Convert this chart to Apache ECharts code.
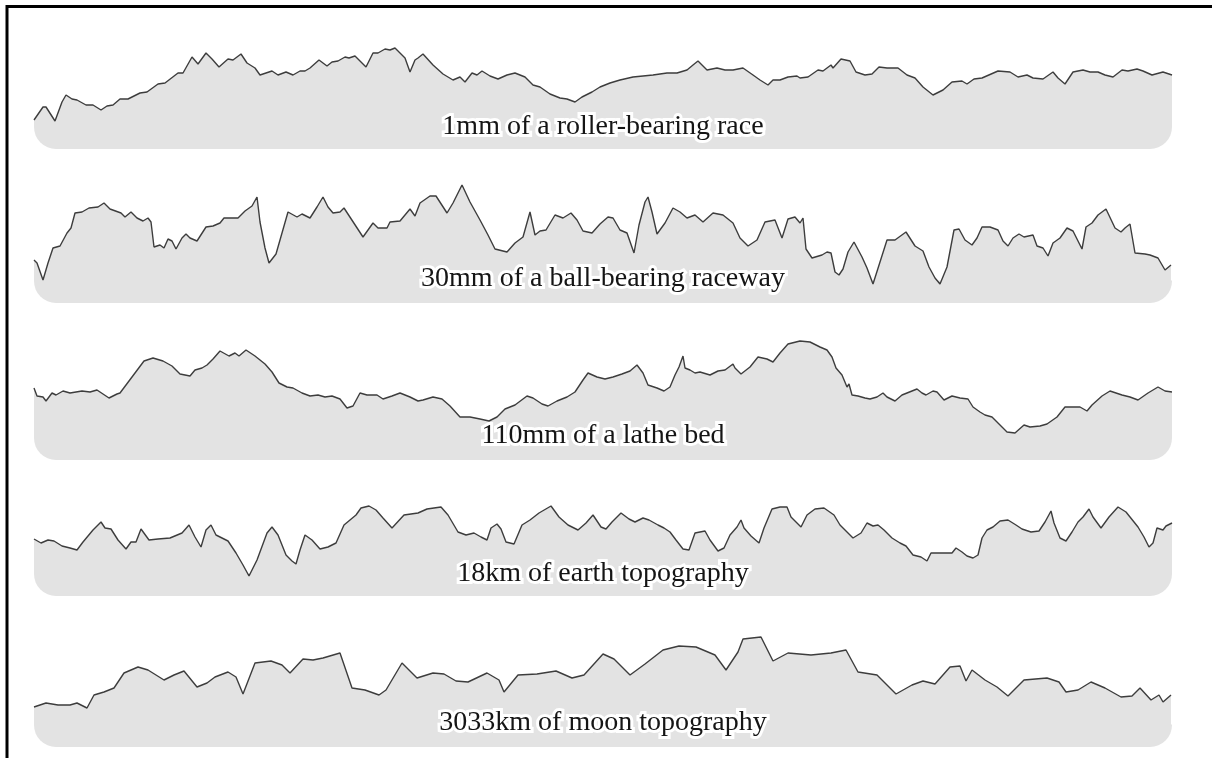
<!DOCTYPE html>
<html>
<head>
<meta charset="utf-8">
<title>Surface profiles</title>
<script src="https://cdn.jsdelivr.net/npm/echarts@6/dist/echarts.min.js"></script>
<style>
  html, body { margin: 0; padding: 0; background: #fff; }
  #chart { width: 1212px; height: 758px; }
</style>
</head>
<body>
<div id="chart"></div>
<script>
// profile labels, top to bottom
const labels = [
  '1mm of a roller-bearing race',
  '30mm of a ball-bearing raceway',
  '110mm of a lathe bed',
  '18km of earth topography',
  '3033km of moon topography'
]

// [position along trace, height above the shaded base]
const rollerRace = [
  [0,29],[9,42],[12,42],[21,28],[28,47],[32,54],[38,50],[43,49],[52,44],[59,44],[67,39],[73,43],[79,44],[86,50],[94,50],
  [106,56],[113,57],[124,65],[131,66],[144,76],[149,76],[158,92],[164,85],[172,96],[178,90],[185,82],[194,90],[199,89],
  [207,95],[213,86],[221,81],[226,74],[238,78],[244,74],[252,77],[259,74],[266,78],[271,78],[276,81],[285,89],[293,83],
  [298,87],[304,88],[311,92],[315,91],[321,93],[332,82],[339,96],[344,96],[351,100],[356,99],[361,101],[366,96],[371,91],
  [376,77],[381,89],[384,91],[389,95],[399,84],[409,75],[419,69],[426,72],[431,67],[438,76],[443,74],[448,78],[456,73],
  [464,70],[473,74],[481,76],[491,72],[499,64],[506,62],[516,55],[526,51],[533,50],[541,47],[548,52],[558,57],[566,62],
  [576,66],[586,69],[599,72],[609,73],[619,74],[633,76],[643,76],[653,79],[659,84],[664,88],[673,79],[683,81],[691,79],
  [699,79],[709,81],[719,74],[726,69],[734,64],[739,69],[746,69],[754,72],[763,73],[766,71],[774,72],[784,79],[789,78],
  [797,84],[799,81],[807,90],[816,88],[822,77],[831,74],[838,75],[845,82],[853,81],[864,81],[873,74],[881,71],[889,62],
  [899,54],[909,59],[918,67],[928,68],[933,65],[940,70],[948,71],[964,78],[976,77],[984,72],[993,74],[999,71],[1009,70],
  [1019,77],[1024,71],[1031,65],[1039,77],[1049,79],[1056,77],[1064,77],[1071,74],[1079,72],[1088,79],[1094,78],[1103,80],
  [1109,78],[1118,74],[1129,77],[1138,74]
]

const ballRaceway = [
  [0,43],[3,40],[9,23],[14,40],[19,55],[26,57],[33,70],[37,75],[41,90],[48,91],[55,95],[64,96],[70,100],[76,94],[87,90],
  [91,86],[97,91],[103,85],[109,82],[114,85],[117,81],[120,56],[126,58],[130,55],[134,64],[138,62],[142,54],[148,65],
  [152,69],[156,65],[163,62],[172,76],[179,77],[186,80],[190,85],[204,85],[211,92],[218,97],[223,106],[226,81],[231,55],
  [235,40],[242,49],[248,70],[254,91],[263,86],[268,89],[276,85],[283,96],[289,106],[294,96],[299,90],[306,91],[310,95],
  [329,66],[334,73],[339,80],[344,75],[353,75],[356,81],[366,82],[376,94],[381,87],[386,100],[396,107],[402,107],[413,90],
  [419,100],[428,118],[436,101],[446,83],[454,68],[461,54],[473,51],[481,60],[489,66],[496,91],[501,68],[506,72],[512,73],
  [521,88],[529,85],[537,90],[543,83],[549,72],[558,70],[566,79],[574,86],[579,85],[586,73],[593,70],[600,50],[605,78],
  [611,101],[614,106],[618,91],[623,69],[631,80],[639,95],[646,91],[653,85],[661,88],[669,81],[679,90],[689,88],[699,80],
  [706,65],[714,57],[723,63],[731,81],[741,83],[748,65],[754,84],[761,86],[766,80],[769,85],[772,54],[778,45],[788,48],
  [793,51],[797,50],[801,31],[805,28],[809,34],[814,51],[820,61],[828,46],[833,35],[839,19],[846,41],[853,63],[861,63],
  [872,71],[881,57],[889,52],[895,36],[901,25],[906,19],[913,36],[920,73],[925,74],[931,63],[938,58],[943,65],[948,76],
  [956,76],[964,73],[969,62],[974,57],[979,65],[985,69],[990,66],[999,68],[1003,57],[1009,55],[1014,47],[1019,60],
  [1026,65],[1033,75],[1039,72],[1048,54],[1052,76],[1058,80],[1064,88],[1072,94],[1081,75],[1087,71],[1091,75],
  [1096,79],[1101,50],[1111,49],[1116,48],[1124,45],[1131,33],[1137,38]
]

const latheBed = [
  [0,72],[3,64],[9,63],[12,59],[18,67],[22,65],[29,69],[36,67],[48,69],[56,68],[63,70],[69,66],[75,62],[83,66],[86,67],
  [98,83],[110,99],[119,102],[129,99],[138,94],[146,86],[156,84],[161,90],[168,92],[173,95],[179,101],[186,109],[195,104],
  [201,107],[205,104],[212,110],[221,104],[231,96],[238,88],[245,77],[253,73],[259,72],[268,67],[276,64],[284,65],[291,63],
  [298,64],[306,61],[313,52],[319,54],[326,67],[333,65],[343,65],[349,61],[358,64],[366,67],[376,63],[384,59],[389,60],
  [399,63],[408,61],[416,54],[426,43],[436,43],[446,41],[455,39],[463,43],[471,51],[481,55],[493,64],[499,62],[508,56],
  [514,54],[523,59],[533,63],[541,68],[549,80],[554,87],[563,83],[571,81],[579,83],[588,86],[596,89],[603,95],[609,87],
  [614,75],[623,72],[630,69],[636,73],[641,85],[645,93],[649,104],[651,92],[656,90],[661,87],[666,88],[676,85],[684,89],
  [691,90],[699,96],[701,92],[707,86],[709,88],[716,93],[724,103],[733,101],[739,98],[746,107],[754,116],[766,119],
  [776,118],[786,113],[793,110],[798,103],[802,92],[808,85],[813,73],[815,76],[818,65],[824,64],[831,62],[836,61],
  [843,63],[849,67],[853,63],[861,59],[868,65],[883,71],[888,67],[892,65],[899,69],[903,68],[910,60],[918,64],[926,62],
  [934,61],[939,53],[946,48],[951,45],[958,43],[966,35],[973,28],[981,27],[990,35],[996,33],[1006,34],[1013,36],
  [1023,43],[1031,53],[1036,53],[1046,53],[1053,49],[1058,55],[1059,53],[1068,64],[1076,69],[1088,65],[1096,63],
  [1104,60],[1114,67],[1124,73],[1131,69],[1138,68]
]

const earthTopo = [
  [0,57],[7,53],[14,56],[20,55],[28,50],[36,48],[43,46],[49,54],[59,66],[67,74],[71,68],[77,67],[84,56],[92,47],[97,54],
  [102,54],[107,67],[115,56],[124,57],[136,58],[148,63],[155,71],[161,59],[167,49],[172,66],[177,71],[182,61],[194,55],
  [202,43],[209,31],[215,20],[223,36],[233,63],[238,69],[244,61],[252,41],[258,35],[262,32],[266,46],[271,61],[278,56],
  [286,47],[294,49],[302,53],[310,71],[322,81],[327,88],[335,90],[342,86],[349,78],[358,68],[370,81],[384,83],[393,87],
  [407,89],[414,81],[424,64],[432,61],[440,63],[447,59],[453,56],[457,68],[463,72],[467,67],[472,54],[480,52],[488,71],
  [496,76],[505,83],[517,90],[525,79],[534,71],[544,66],[552,73],[559,81],[567,69],[572,67],[578,74],[587,83],[595,77],
  [601,74],[609,78],[615,76],[624,71],[630,68],[636,64],[642,56],[649,47],[655,46],[661,63],[671,65],[676,56],[684,45],
  [690,48],[696,61],[703,69],[707,76],[710,68],[717,60],[725,53],[730,68],[738,87],[746,89],[753,89],[757,79],[767,69],
  [773,81],[781,87],[790,88],[800,81],[806,71],[814,63],[819,58],[827,63],[833,73],[839,70],[844,71],[850,66],[858,58],
  [866,53],[872,50],[879,41],[887,39],[893,35],[897,43],[908,43],[918,43],[922,48],[928,44],[933,40],[939,38],[944,41],
  [948,58],[953,66],[959,69],[966,75],[974,76],[982,71],[988,67],[997,64],[1005,65],[1011,74],[1017,85],[1020,73],
  [1026,58],[1032,55],[1038,64],[1044,74],[1049,79],[1055,87],[1059,79],[1067,68],[1075,79],[1084,89],[1092,84],
  [1104,69],[1110,59],[1115,49],[1119,53],[1123,68],[1129,66],[1132,70],[1138,73]
]

const moonTopo = [
  [0,40],[12,44],[24,42],[36,42],[43,44],[53,39],[60,52],[70,55],[80,59],[90,74],[104,80],[114,77],[130,67],[140,72],
  [150,76],[163,60],[173,64],[181,70],[194,75],[202,70],[209,53],[221,84],[237,86],[248,82],[256,74],[269,88],[279,87],
  [289,89],[306,94],[318,59],[331,57],[345,52],[352,57],[368,84],[383,69],[399,74],[410,73],[422,66],[434,65],[453,74],
  [465,67],[470,55],[484,72],[503,73],[522,76],[538,69],[550,72],[569,93],[580,88],[596,72],[611,83],[629,97],[645,101],
  [662,100],[681,92],[692,77],[704,95],[709,108],[727,110],[739,86],[754,94],[777,92],[797,94],[812,97],[824,75],
  [843,72],[862,53],[878,62],[889,66],[901,63],[916,80],[926,81],[932,66],[938,77],[951,67],[963,60],[974,51],[990,67],
  [1013,69],[1025,65],[1032,55],[1044,57],[1057,65],[1071,59],[1087,50],[1098,51],[1106,59],[1117,47],[1125,52],
  [1129,45],[1137,52]
]

const profiles = [rollerRace, ballRaceway, latheBed, earthTopo, moonTopo]

// layout
const plotLeft = 34
const plotWidth = 1138
const panelBottoms = [149, 303, 460, 596, 747]
const labelY = [127, 279, 436, 574, 723]
const corner = 22
const maxH = 130
const fillColor = '#e3e3e3'

const chart = echarts.init(document.getElementById('chart'))

const grids = panelBottoms.map(b => ({
  left: plotLeft, width: plotWidth, top: b - maxH, height: maxH - corner
}))

const xAxes = profiles.map((p, i) => ({
  type: 'value', gridIndex: i, min: 0, max: plotWidth, show: false
}))

const yAxes = profiles.map((p, i) => ({
  type: 'value', gridIndex: i, min: corner, max: maxH, show: false
}))

const series = profiles.map((p, i) => ({
  type: 'line',
  xAxisIndex: i,
  yAxisIndex: i,
  data: p,
  symbol: 'none',
  clip: false,
  silent: true,
  z: 3,
  lineStyle: { color: '#3d3d3d', width: 1.4 },
  areaStyle: { color: fillColor, opacity: 1, origin: 'start' }
}))

const graphics = []
panelBottoms.forEach((b, i) => {
  // rounded base under each profile
  graphics.push({
    type: 'rect',
    z: 1,
    silent: true,
    shape: { x: plotLeft, y: b - corner - 0.5, width: plotWidth, height: corner + 0.5, r: [0, 0, corner, corner] },
    style: { fill: fillColor }
  })
  graphics.push({
    type: 'text',
    z: 10,
    silent: true,
    x: plotLeft + plotWidth / 2,
    y: labelY[i],
    style: {
      text: labels[i],
      font: '28px "Liberation Serif", serif',
      fill: '#151515',
      stroke: '#ffffff',
      lineWidth: 6,
      align: 'center',
      verticalAlign: 'middle'
    }
  })
})

// page frame (left and top edges)
graphics.push({
  type: 'polyline',
  z: 10,
  silent: true,
  shape: { points: [[7, 758], [7, 6.5], [1212, 6.5]] },
  style: { stroke: '#000', lineWidth: 3, fill: null }
})

chart.setOption({
  animation: false,
  backgroundColor: '#fff',
  grid: grids,
  xAxis: xAxes,
  yAxis: yAxes,
  series,
  graphic: graphics
})
</script>
</body>
</html>
